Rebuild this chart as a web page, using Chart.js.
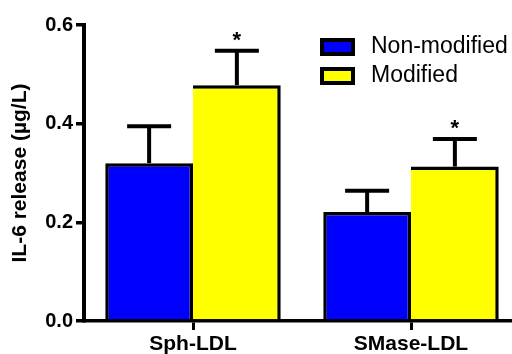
<!DOCTYPE html>
<html>
<head>
<meta charset="utf-8">
<script src="https://cdn.jsdelivr.net/npm/chart.js@4"></script>
<style>
  html, body { margin: 0; padding: 0; background: #fff; overflow: hidden; }
  #wrap { width: 520px; height: 354px; }
</style>
</head>
<body>
<div id="wrap"><canvas id="il6Chart" width="520" height="354"></canvas></div>
<script>
// データ
const categories = ["Sph-LDL", "SMase-LDL"];
const seriesLabels = ["Non-modified", "Modified"];
const nonModified = [0.320, 0.221];
const modified = [0.478, 0.313];
const nonModifiedErr = [0.075, 0.043];
const modifiedErr = [0.070, 0.056];
const nonModifiedMarks = ["", ""];
const modifiedMarks = ["*", "*"];
const yTicks = [0, 0.2, 0.4, 0.6];

const FONT = "'Liberation Sans', Arial, sans-serif";

// エラーバーと有意差マーク
const errorBarPlugin = {
  id: "errorBars",
  afterDatasetsDraw(chart) {
    const ctx = chart.ctx;
    const yScale = chart.scales.y;
    chart.data.datasets.forEach((ds, i) => {
      const meta = chart.getDatasetMeta(i);
      meta.data.forEach((bar, j) => {
        const top = ds.data[j] + ds.errors[j];
        const yTop = yScale.getPixelForValue(top);
        ctx.save();
        ctx.strokeStyle = "#000";
        ctx.lineWidth = 4;
        ctx.beginPath();
        ctx.moveTo(bar.x, bar.y);
        ctx.lineTo(bar.x, yTop);
        ctx.stroke();
        ctx.beginPath();
        ctx.moveTo(bar.x - 22, yTop);
        ctx.lineTo(bar.x + 22, yTop);
        ctx.stroke();
        if (ds.marks[j]) {
          ctx.fillStyle = "#000";
          ctx.font = "bold 22px " + FONT;
          ctx.textAlign = "center";
          ctx.textBaseline = "middle";
          ctx.fillText(ds.marks[j], bar.x, yTop - 10);
        }
        ctx.restore();
      });
    });
  },
  // 凡例
  afterDraw(chart) {
    const ctx = chart.ctx;
    ctx.save();
    chart.data.datasets.forEach((ds, i) => {
      const y = 38 + i * 29;
      ctx.fillStyle = ds.backgroundColor;
      ctx.fillRect(320, y, 35, 18);
      ctx.strokeStyle = "#000";
      ctx.lineWidth = 4;
      ctx.strokeRect(322, y + 2, 31, 14);
      ctx.fillStyle = "#000";
      ctx.font = "23px " + FONT;
      ctx.textAlign = "left";
      ctx.textBaseline = "middle";
      ctx.fillText(ds.label, 371, y + 9);
    });
    ctx.restore();
  },
};

new Chart(document.getElementById("il6Chart"), {
  type: "bar",
  data: {
    labels: categories,
    datasets: [
      {
        label: seriesLabels[0],
        data: nonModified,
        errors: nonModifiedErr,
        marks: nonModifiedMarks,
        backgroundColor: "#0000FF",
        borderColor: "#000",
        borderWidth: { top: 3.5, left: 3.5, right: 3.5, bottom: 0 },
        borderSkipped: false,
      },
      {
        label: seriesLabels[1],
        data: modified,
        errors: modifiedErr,
        marks: modifiedMarks,
        backgroundColor: "#FFFF00",
        borderColor: "#000",
        borderWidth: { top: 3.5, left: 0, right: 3.5, bottom: 0 },
        borderSkipped: false,
      },
    ],
  },
  options: {
    responsive: false,
    animation: false,
    events: [],
    layout: { padding: { top: 25, right: 0, left: 0, bottom: 0 } },
    datasets: {
      bar: { categoryPercentage: 0.805, barPercentage: 1.0 },
    },
    plugins: {
      legend: { display: false },
      tooltip: { enabled: false },
    },
    scales: {
      x: {
        offset: true,
        grid: {
          display: true,
          offset: false,
          drawOnChartArea: false,
          drawTicks: true,
          tickLength: 9,
          color: "#000",
          lineWidth: 3,
        },
        border: { display: true, color: "#000", width: 3.5 },
        ticks: {
          color: "#000",
          padding: 2,
          font: { family: FONT, size: 21, weight: "bold" },
        },
        afterFit(scale) {
          scale.height = 33;
        },
      },
      y: {
        min: 0,
        max: 0.6,
        afterBuildTicks(scale) {
          scale.ticks = yTicks.map((v) => ({ value: v }));
        },
        grid: {
          display: true,
          drawOnChartArea: false,
          drawTicks: true,
          tickLength: 8,
          color: "#000",
          lineWidth: 3.5,
        },
        border: { display: true, color: "#000", width: 4 },
        ticks: {
          color: "#000",
          padding: 3,
          font: { family: FONT, size: 20, weight: "bold" },
          callback: (v) => Number(v).toFixed(1),
        },
        title: {
          display: true,
          text: "IL-6 release (µg/L)",
          color: "#000",
          padding: { top: 8, bottom: 4 },
          font: { family: FONT, size: 21, weight: "bold" },
        },
        afterFit(scale) {
          scale.width = 84;
        },
      },
    },
  },
  plugins: [errorBarPlugin],
});
</script>
</body>
</html>
